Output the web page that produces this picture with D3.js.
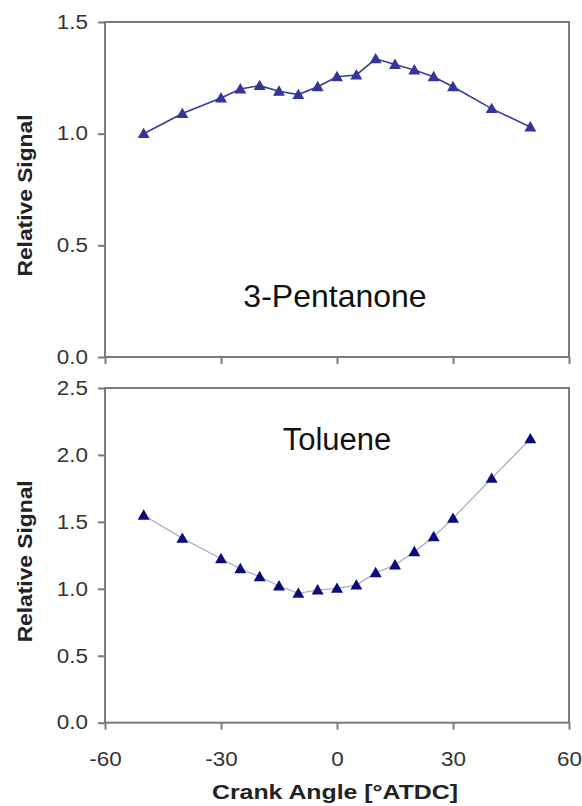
<!DOCTYPE html>
<html>
<head>
<meta charset="utf-8">
<script src="https://cdn.jsdelivr.net/npm/d3@7"></script>
<style>
  body { margin: 0; background: #fff; }
  svg { display: block; font-family: Arial, "Liberation Sans", sans-serif; }
</style>
</head>
<body>
<div id="chart"></div>
<script>
// Crank angle (deg ATDC) shared by both panels
var crankAngle = [-50, -40, -30, -25, -20, -15, -10, -5, 0, 5, 10, 15, 20, 25, 30, 40, 50];

// Relative signal
var pentanone = [1.00, 1.09, 1.16, 1.20, 1.215, 1.19, 1.175, 1.21, 1.255, 1.263, 1.335, 1.31, 1.285, 1.255, 1.21, 1.112, 1.03];
var toluene = [1.55, 1.377, 1.225, 1.15, 1.09, 1.021, 0.966, 0.991, 1.004, 1.028, 1.12, 1.178, 1.277, 1.389, 1.526, 1.825, 2.12];

var xTicks = [-60, -30, 0, 30, 60];
var yTicksTop = [0, 0.5, 1.0, 1.5];
var yTicksBottom = [0, 0.5, 1.0, 1.5, 2.0, 2.5];

var width = 582, height = 806;
var left = 105, right = 569;
var stretch = 1.15; // tick labels look a bit wide in the original

var svg = d3.select('#chart').append('svg')
    .attr('width', width)
    .attr('height', height);

var x = d3.scaleLinear().domain([-60, 60]).range([left, right]);

var panels = [
    { name: '3-Pentanone', values: pentanone, top: 22, bottom: 357, max: 1.5, ticks: yTicksTop,
      lineColor: '#3a3a96', lineWidth: 1.6, markColor: '#34349a', labelX: 335, labelY: 307, labelSize: 32, showX: false },
    { name: 'Toluene', values: toluene, top: 388, bottom: 722.7, max: 2.5, ticks: yTicksBottom,
      lineColor: '#a6a6c8', lineWidth: 1.2, markColor: '#0a0a7a', labelX: 337, labelY: 450, labelSize: 31, showX: true }
];

panels.forEach(function (p) {
    var y = d3.scaleLinear().domain([0, p.max]).range([p.bottom, p.top]);
    var g = svg.append('g');

    // frame
    g.append('rect')
        .attr('x', left).attr('y', p.top)
        .attr('width', right - left).attr('height', p.bottom - p.top)
        .attr('fill', 'none').attr('stroke', '#7a7a7a').attr('stroke-width', 2);

    var yAxis = g.append('g')
        .attr('transform', 'translate(' + left + ',0)')
        .call(d3.axisLeft(y).tickValues(p.ticks).tickFormat(d3.format('.1f')).tickSize(7).tickPadding(10));

    var xAxis = g.append('g')
        .attr('transform', 'translate(0,' + p.bottom + ')')
        .call(d3.axisBottom(x).tickValues(xTicks).tickSize(7).tickPadding(22)
            .tickFormat(function (d) { return p.showX ? String(d) : ''; }));

    [yAxis, xAxis].forEach(function (a) {
        a.select('.domain').remove();
        a.selectAll('line').attr('stroke', '#7a7a7a').attr('stroke-width', 2);
        a.selectAll('text')
            .attr('fill', '#333')
            .style('font-size', '19.5px')
            .style('font-family', 'Arial, "Liberation Sans", sans-serif')
            .attr('x', function () { return (+d3.select(this).attr('x') || 0) / stretch; })
            .attr('transform', 'scale(' + stretch + ',1)');
    });

    var line = d3.line()
        .x(function (d, i) { return x(crankAngle[i]); })
        .y(function (d) { return y(d); });

    g.append('path')
        .datum(p.values)
        .attr('d', line)
        .attr('fill', 'none')
        .attr('stroke', p.lineColor)
        .attr('stroke-width', p.lineWidth);

    // triangles: shift down a little so the box centre sits on the value
    g.selectAll('.mark')
        .data(p.values)
        .join('path')
        .attr('class', 'mark')
        .attr('d', d3.symbol(d3.symbolTriangle, 62))
        .attr('transform', function (d, i) { return 'translate(' + x(crankAngle[i]) + ',' + (y(d) + 1) + ')'; })
        .attr('fill', p.markColor);

    g.append('text')
        .attr('x', p.labelX).attr('y', p.labelY)
        .attr('text-anchor', 'middle')
        .style('font-size', p.labelSize + 'px')
        .attr('fill', '#111')
        .text(p.name);

    g.append('text')
        .attr('transform', 'translate(32,' + ((p.top + p.bottom) / 2 + 6) + ') rotate(-90)')
        .attr('text-anchor', 'middle')
        .attr('textLength', 162)
        .attr('lengthAdjust', 'spacingAndGlyphs')
        .style('font-size', '21px')
        .style('font-weight', 'bold')
        .attr('fill', '#222')
        .text('Relative Signal');
});

svg.append('text')
    .attr('x', 335).attr('y', 799)
    .attr('text-anchor', 'middle')
    .attr('textLength', 246)
    .attr('lengthAdjust', 'spacingAndGlyphs')
    .style('font-size', '21px')
    .style('font-weight', 'bold')
    .attr('fill', '#222')
    .text('Crank Angle [°ATDC]');
</script>
</body>
</html>
